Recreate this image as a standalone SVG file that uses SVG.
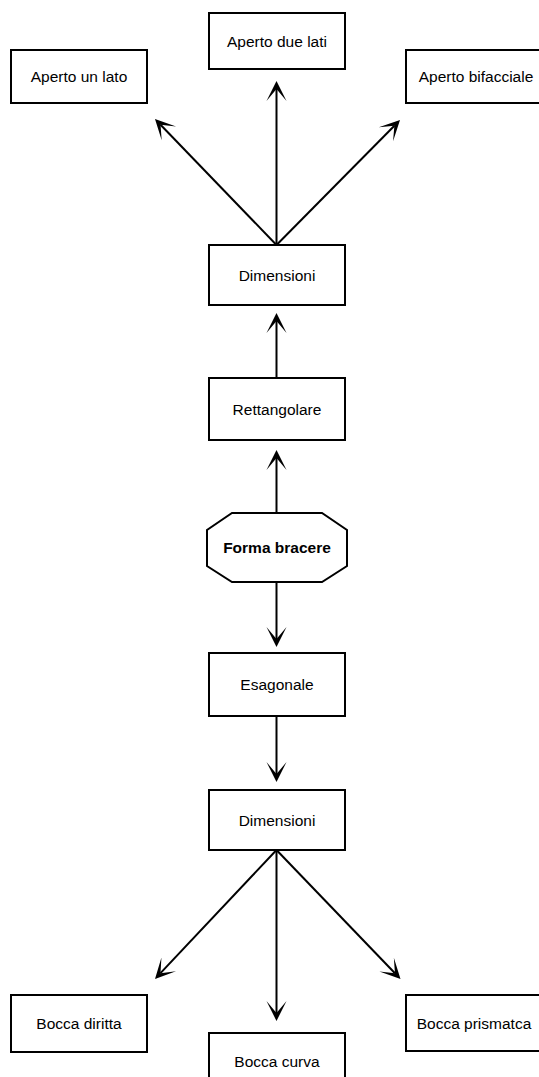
<svg xmlns="http://www.w3.org/2000/svg" width="539" height="1077" viewBox="0 0 539 1077">
<style>
.box{fill:#fff;stroke:#000;stroke-width:2}
.lbl{font-family:"Liberation Sans",Arial,sans-serif;font-size:15.5px;fill:#000;text-anchor:middle}
.bold{font-weight:bold}
.conn{stroke:#000;stroke-width:2;fill:none;marker-end:url(#arr)}
</style>
<defs>
<marker id="arr" markerUnits="userSpaceOnUse" markerWidth="22" markerHeight="22" viewBox="0 -11 22 22" refX="12" refY="0" orient="auto">
<path d="M20,0 L0,-10 L12,0 L0,10 Z" fill="#000"/>
</marker>
</defs>
<rect width="539" height="1077" fill="#fff"/>
<g id="connectors">
<line class="conn" x1="276.5" y1="245" x2="276.5" y2="89"/>
<line class="conn" x1="276.5" y1="245" x2="160.55" y2="124.76"/>
<line class="conn" x1="276.5" y1="245" x2="394.38" y2="125.69"/>
<line class="conn" x1="276.5" y1="378" x2="276.5" y2="321"/>
<line class="conn" x1="276.5" y1="513" x2="276.5" y2="458"/>
<line class="conn" x1="276.5" y1="582" x2="276.5" y2="639"/>
<line class="conn" x1="276.5" y1="716" x2="276.5" y2="774"/>
<line class="conn" x1="276.5" y1="850" x2="160.49" y2="973.18"/>
<line class="conn" x1="276.5" y1="850" x2="276.5" y2="1013"/>
<line class="conn" x1="276.5" y1="850" x2="394.96" y2="973.23"/>
</g>
<g id="aperto-due-lati"><rect class="box" x="209" y="13" width="136" height="56"/><text class="lbl" x="277" y="46.5">Aperto due lati</text></g>
<g id="aperto-un-lato"><rect class="box" x="11" y="50" width="136" height="53"/><text class="lbl" x="79" y="82">Aperto un lato</text></g>
<g id="aperto-bifacciale"><rect class="box" x="406" y="50" width="136" height="53"/><text class="lbl" x="476" y="82">Aperto bifacciale</text></g>
<g id="dimensioni-1"><rect class="box" x="209" y="245" width="136" height="60"/><text class="lbl" x="277" y="280.5">Dimensioni</text></g>
<g id="rettangolare"><rect class="box" x="209" y="378" width="136" height="62"/><text class="lbl" x="277" y="414.5">Rettangolare</text></g>
<g id="forma-bracere"><polygon class="box" points="232,513 322,513 347,530 347,566 322,582 232,582 207,566 207,530"/><text class="lbl bold" x="277" y="553">Forma bracere</text></g>
<g id="esagonale"><rect class="box" x="209" y="653" width="136" height="63"/><text class="lbl" x="277" y="690">Esagonale</text></g>
<g id="dimensioni-2"><rect class="box" x="209" y="790" width="136" height="60"/><text class="lbl" x="277" y="825.5">Dimensioni</text></g>
<g id="bocca-diritta"><rect class="box" x="11" y="995" width="136" height="57"/><text class="lbl" x="79" y="1029">Bocca diritta</text></g>
<g id="bocca-curva"><rect class="box" x="209" y="1033" width="136" height="56"/><text class="lbl" x="277" y="1067">Bocca curva</text></g>
<g id="bocca-prismatca"><rect class="box" x="406" y="995" width="136" height="56"/><text class="lbl" x="474" y="1029">Bocca prismatca</text></g>
</svg>
